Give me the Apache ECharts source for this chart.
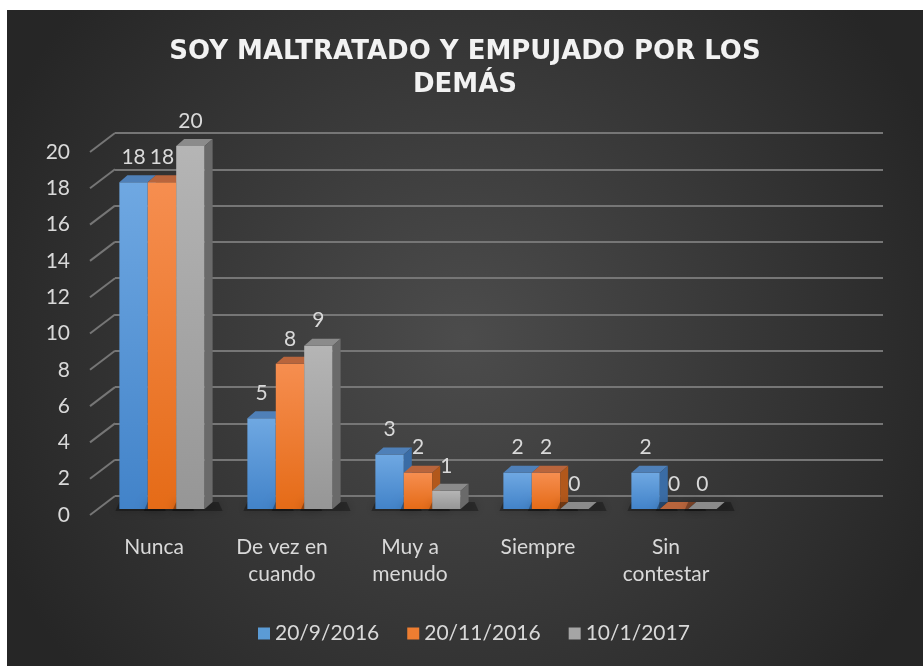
<!DOCTYPE html>
<html>
<head>
<meta charset="utf-8">
<script src="https://cdn.jsdelivr.net/npm/echarts@6/dist/echarts.min.js"></script>
<style>
  html, body { margin: 0; padding: 0; background: #fff; }
  #chart { position: absolute; left: 7px; top: 10px; width: 916px; height: 656px; }
</style>
</head>
<body>
<div id="chart"></div>
<script>
var categories = ['Nunca', 'De vez en\ncuando', 'Muy a\nmenudo', 'Siempre', 'Sin\ncontestar'];
var seriesNames = ['20/9/2016', '20/11/2016', '10/1/2017'];
var s1 = [18, 5, 3, 2, 2];
var s2 = [18, 8, 2, 2, 0];
var s3 = [20, 9, 1, 0, 0];
var yTicks = [0, 2, 4, 6, 8, 10, 12, 14, 16, 18, 20];

// 3d look
var WALL = [25, -19];   // front edge -> back wall
var FRONT = [8, -6];    // front edge -> bar front face
var DEPTH = [8, -7];    // bar depth
var GRID = { left: 83, top: 142, width: 768, height: 363 };

var faces = [
    { front: ['#6fa8e2', '#4283c9'], top: '#4f80b8', side: '#3a6ca5' },
    { front: ['#f68e50', '#e56b17'], top: '#b9653c', side: '#b2581b' },
    { front: ['#b5b5b5', '#969696'], top: '#8b8b8b', side: '#6a6a6a' }
];

function barItem(params, api) {
    var ci = api.value(0), v = api.value(1);
    var base = api.coord([ci, 0]);
    var top = api.coord([ci, v]);
    var band = api.size([1, 0])[0];
    var bw = band * 0.222;
    var k = params.seriesIndex;
    var f = faces[k];
    var x0 = base[0] - 1.5 * bw + k * bw + FRONT[0];
    var yT = top[1] + FRONT[1];
    var yB = base[1] + FRONT[1];
    var dx = DEPTH[0], dy = DEPTH[1];
    return {
        type: 'group',
        children: [
            { type: 'polygon', shape: { points: [[x0 - 4, yB + 2], [x0 + bw + dx + 10, yB + 2], [x0 + bw + dx + 6, yB + dy], [x0, yB + dy]] },
              style: { fill: 'rgba(0,0,0,0.3)', shadowBlur: 10, shadowColor: 'rgba(0,0,0,0.6)' }, silent: true },
            { type: 'rect', shape: { x: x0, y: yT, width: bw, height: yB - yT },
              style: { fill: new echarts.graphic.LinearGradient(0, 0, 0, 1, [{ offset: 0, color: f.front[0] }, { offset: 1, color: f.front[1] }]) } },
            { type: 'polygon', shape: { points: [[x0, yT], [x0 + bw, yT], [x0 + bw + dx, yT + dy], [x0 + dx, yT + dy]] },
              style: { fill: f.top } },
            { type: 'polygon', shape: { points: [[x0 + bw, yT], [x0 + bw + dx, yT + dy], [x0 + bw + dx, yB + dy], [x0 + bw, yB]] },
              style: { fill: f.side } },
            { type: 'text', style: { text: String(v), x: x0 + bw / 2, y: yT - 25, align: 'center', verticalAlign: 'middle',
              fill: '#d9d9d9', font: '21px Lato' } }
        ]
    };
}

function wallItem(params, api) {
    var v = api.value(1);
    var p = api.coord([0, v]);
    var band = api.size([1, 0])[0];
    var lx = p[0] - band / 2;
    return {
        type: 'line',
        shape: { x1: lx, y1: p[1], x2: lx + WALL[0], y2: p[1] + WALL[1] },
        style: { stroke: '#767676', lineWidth: 2 }
    };
}

var chart = echarts.init(document.getElementById('chart'));

var barData = [s1, s2, s3];
var series = barData.map(function (vals, k) {
    return {
        name: seriesNames[k],
        type: 'custom',
        xAxisIndex: 0, yAxisIndex: 0,
        renderItem: barItem,
        data: vals.map(function (v, i) { return [i, v]; }),
        z: 3
    };
});
series.push({
    type: 'custom',
    xAxisIndex: 0, yAxisIndex: 0,
    renderItem: wallItem,
    silent: true,
    data: yTicks.map(function (t) { return [0, t]; }),
    z: 1
});
series.push({
    type: 'bar', xAxisIndex: 1, yAxisIndex: 1, data: [], silent: true
});

chart.setOption({
    backgroundColor: new echarts.graphic.RadialGradient(0.5, 0.5, 0.78, [
        { offset: 0, color: '#4c4c4c' },
        { offset: 1, color: '#262626' }
    ]),
    color: ['#5b9bd5', '#ed7d31', '#a5a5a5'],
    animation: false,
    title: {
        text: 'SOY MALTRATADO Y EMPUJADO POR LOS\nDEMÁS',
        left: 'center',
        top: 21,
        textStyle: { color: '#f2f2f2', fontSize: 26, lineHeight: 33, fontWeight: 'bold', fontFamily: 'DejaVu Sans' }
    },
    legend: {
        data: seriesNames,
        left: 246,
        top: 608,
        icon: 'rect',
        itemWidth: 12,
        itemHeight: 12,
        itemGap: 28,
        textStyle: { color: '#d9d9d9', fontSize: 21, fontFamily: 'Lato' }
    },
    grid: [
        { left: GRID.left, top: GRID.top, width: GRID.width, height: GRID.height },
        { left: GRID.left + WALL[0], top: GRID.top + WALL[1], width: GRID.width, height: GRID.height }
    ],
    xAxis: [
        {
            type: 'category', gridIndex: 0,
            data: categories.concat(['']),
            axisLine: { show: false }, axisTick: { show: false },
            axisLabel: { color: '#d9d9d9', fontSize: 21, lineHeight: 27, fontFamily: 'Lato', margin: 19, interval: 0 }
        },
        {
            type: 'category', gridIndex: 1, data: categories.concat(['']),
            show: false
        }
    ],
    yAxis: [
        {
            type: 'value', gridIndex: 0, min: 0, max: 20, interval: 2,
            axisLine: { show: false }, axisTick: { show: false }, splitLine: { show: false },
            axisLabel: { color: '#d9d9d9', fontSize: 21, fontFamily: 'Lato', margin: 20 }
        },
        {
            type: 'value', gridIndex: 1, min: 0, max: 20, interval: 2,
            axisLine: { show: false }, axisTick: { show: false }, axisLabel: { show: false },
            splitLine: { lineStyle: { color: '#767676', width: 2 } }
        }
    ],
    series: series
});
</script>
</body>
</html>
